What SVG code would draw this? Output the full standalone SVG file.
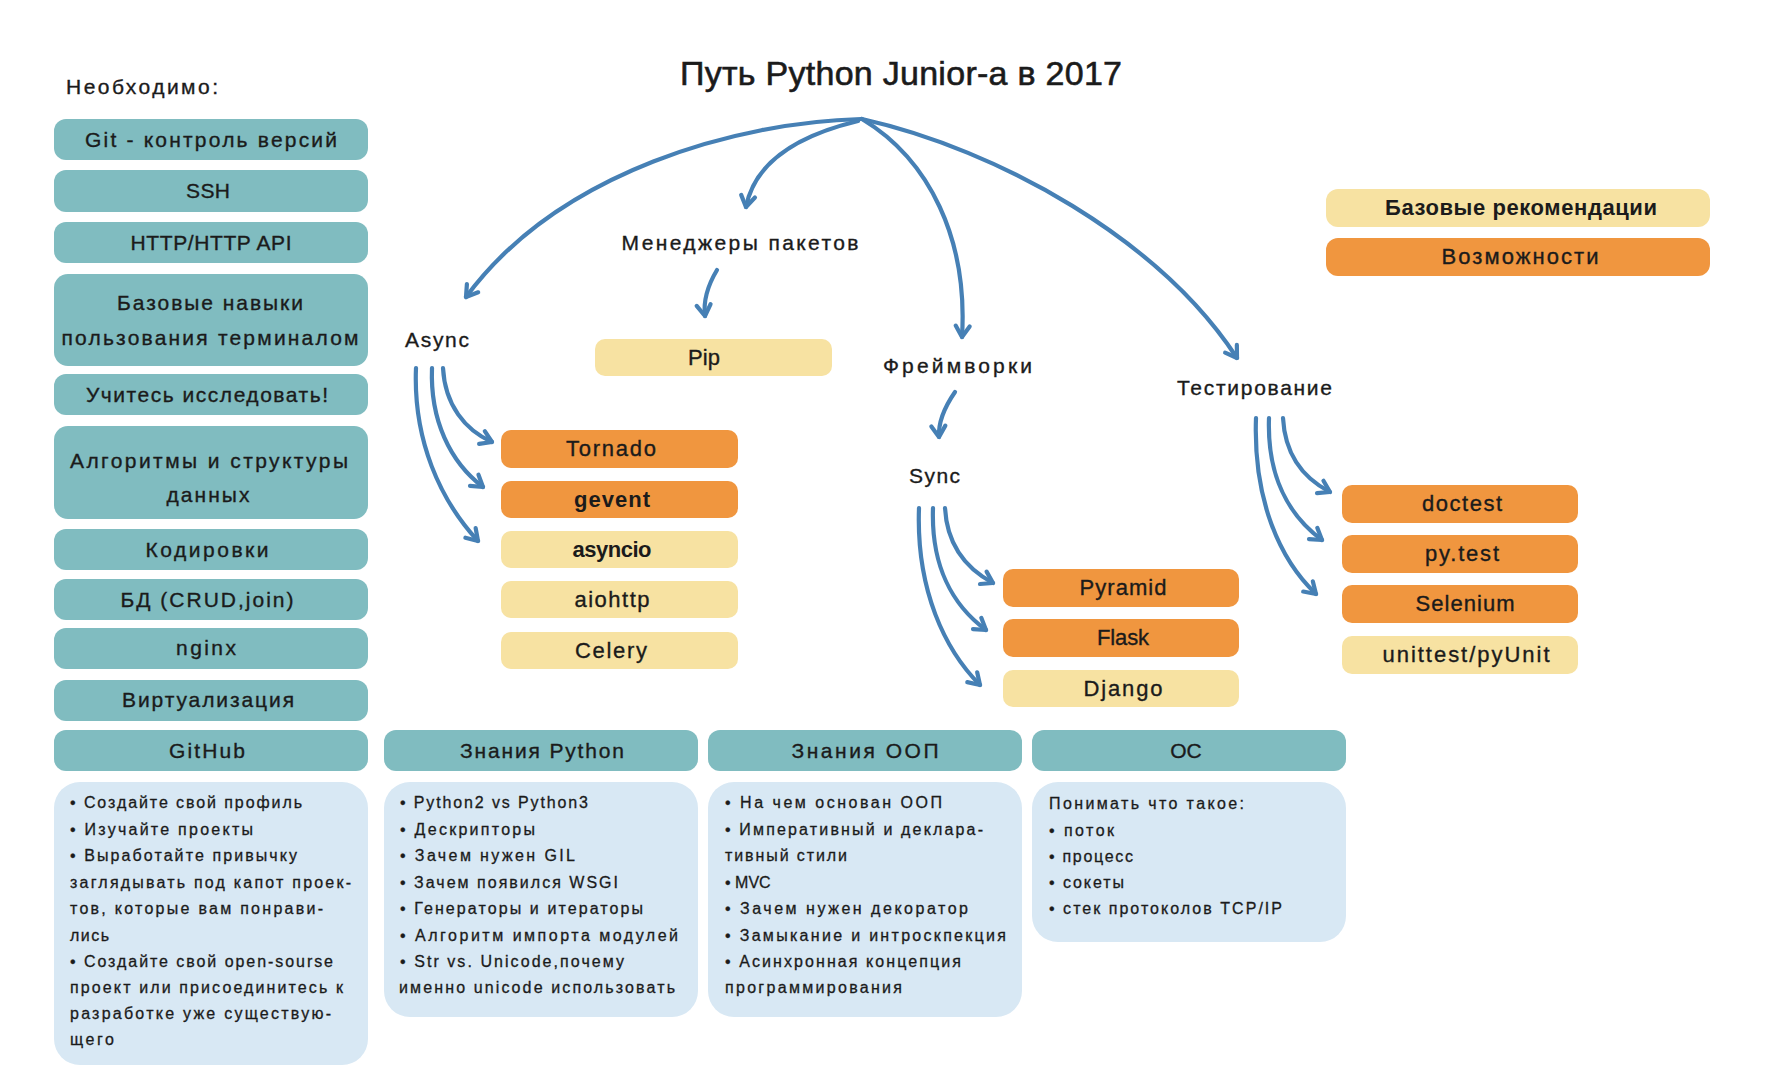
<svg xmlns="http://www.w3.org/2000/svg" width="1782" height="1092" viewBox="0 0 1782 1092">
<defs>
<style>
text{font-family:"Liberation Sans",Arial,sans-serif;fill:#1b1b1b;stroke:#1b1b1b;stroke-width:0.35px}
.teal{fill:#80bcc0}
.org{fill:#f0963f}
.yel{fill:#f7e2a2}
.lb{fill:#d8e8f4}
.lbl{font-size:21px}
.nd{font-size:22px;text-anchor:middle}
.b{font-weight:bold;stroke-width:0}
.c{text-anchor:middle}
.body{font-size:16px;stroke-width:0.3px}
.title{font-size:34px;stroke-width:0.6px}
.con{fill:none;stroke:#4680b5;stroke-width:4.2;stroke-linecap:round;marker-end:url(#arr)}
</style>
<marker id="arr" viewBox="0 0 20 20" refX="15" refY="10" markerWidth="20" markerHeight="20" markerUnits="userSpaceOnUse" orient="auto">
<path d="M4,3 L15,10 L4,17" fill="none" stroke="#4680b5" stroke-width="4.2" stroke-linecap="round" stroke-linejoin="round"/>
</marker>
</defs>
<rect width="1782" height="1092" fill="#ffffff"/>

<g id="title"><text class="title" x="680" y="85" textLength="442" lengthAdjust="spacing">Путь Python Junior-а в 2017</text></g>
<g id="need-label"><text class="lbl" x="66" y="94" font-size="20" textLength="152" lengthAdjust="spacing">Необходимо:</text></g>

<g id="n-git"><rect class="teal" x="54" y="119" width="314" height="41" rx="12"/><text class="lbl c" x="211" y="147" textLength="252" lengthAdjust="spacing">Git - контроль версий</text></g>
<g id="n-ssh"><rect class="teal" x="54" y="170" width="314" height="42" rx="12"/><text class="lbl c" x="208" y="198" textLength="44" lengthAdjust="spacing">SSH</text></g>
<g id="n-http"><rect class="teal" x="54" y="222" width="314" height="41" rx="12"/><text class="lbl c" x="211" y="250" textLength="161" lengthAdjust="spacing">HTTP/HTTP API</text></g>
<g id="n-terminal"><rect class="teal" x="54" y="274" width="314" height="92" rx="14"/><text class="lbl c" x="210" y="310" textLength="186" lengthAdjust="spacing">Базовые навыки</text><text class="lbl c" x="210" y="345" textLength="297" lengthAdjust="spacing">пользования терминалом</text></g>
<g id="n-explore"><rect class="teal" x="54" y="374" width="314" height="41" rx="12"/><text class="lbl c" x="207" y="402" textLength="242" lengthAdjust="spacing">Учитесь исследовать!</text></g>
<g id="n-algo"><rect class="teal" x="54" y="426" width="314" height="93" rx="14"/><text class="lbl c" x="209" y="468" textLength="278" lengthAdjust="spacing">Алгоритмы и структуры</text><text class="lbl c" x="208" y="502" textLength="83" lengthAdjust="spacing">данных</text></g>
<g id="n-enc"><rect class="teal" x="54" y="529" width="314" height="41" rx="12"/><text class="lbl c" x="207" y="557" textLength="123" lengthAdjust="spacing">Кодировки</text></g>
<g id="n-db"><rect class="teal" x="54" y="579" width="314" height="41" rx="12"/><text class="lbl c" x="207" y="607" textLength="173" lengthAdjust="spacing">БД (CRUD,join)</text></g>
<g id="n-nginx"><rect class="teal" x="54" y="628" width="314" height="41" rx="12"/><text class="lbl c" x="206" y="655" textLength="60" lengthAdjust="spacing">nginx</text></g>
<g id="n-virt"><rect class="teal" x="54" y="680" width="314" height="41" rx="12"/><text class="lbl c" x="208" y="707" textLength="172" lengthAdjust="spacing">Виртуализация</text></g>

<g id="h-github"><rect class="teal" x="54" y="730" width="314" height="41" rx="12"/><text class="lbl c" x="207" y="758" textLength="76" lengthAdjust="spacing">GitHub</text></g>
<g id="h-python"><rect class="teal" x="384" y="730" width="314" height="41" rx="12"/><text class="lbl c" x="542" y="758" textLength="164" lengthAdjust="spacing">Знания Python</text></g>
<g id="h-oop"><rect class="teal" x="708" y="730" width="314" height="41" rx="12"/><text class="lbl c" x="865" y="758" textLength="147" lengthAdjust="spacing">Знания ООП</text></g>
<g id="h-os"><rect class="teal" x="1032" y="730" width="314" height="41" rx="12"/><text class="lbl c" x="1186" y="758" font-size="22">ОС</text></g>

<g id="t-github"><rect class="lb" x="54" y="782" width="314" height="283" rx="26"/>
<text class="body" x="70" y="808" textLength="232" lengthAdjust="spacing">• Создайте свой профиль</text>
<text class="body" x="70" y="835" textLength="183" lengthAdjust="spacing">• Изучайте проекты</text>
<text class="body" x="70" y="861" textLength="227" lengthAdjust="spacing">• Выработайте привычку</text>
<text class="body" x="70" y="888" textLength="281" lengthAdjust="spacing">заглядывать под капот проек-</text>
<text class="body" x="70" y="914" textLength="253" lengthAdjust="spacing">тов, которые вам понрави-</text>
<text class="body" x="70" y="941" textLength="39" lengthAdjust="spacing">лись</text>
<text class="body" x="70" y="967" textLength="263" lengthAdjust="spacing">• Создайте свой open-sourse</text>
<text class="body" x="70" y="993" textLength="273" lengthAdjust="spacing">проект или присоединитесь к</text>
<text class="body" x="70" y="1019" textLength="261" lengthAdjust="spacing">разработке уже существую-</text>
<text class="body" x="70" y="1045" textLength="44" lengthAdjust="spacing">щего</text>
</g>
<g id="t-python"><rect class="lb" x="384" y="782" width="314" height="235" rx="26"/>
<text class="body" x="400" y="808" textLength="188" lengthAdjust="spacing">• Python2 vs Python3</text>
<text class="body" x="400" y="835" textLength="135" lengthAdjust="spacing">• Дескрипторы</text>
<text class="body" x="400" y="861" textLength="175" lengthAdjust="spacing">• Зачем нужен GIL</text>
<text class="body" x="400" y="888" textLength="218" lengthAdjust="spacing">• Зачем появился WSGI</text>
<text class="body" x="400" y="914" textLength="243" lengthAdjust="spacing">• Генераторы и итераторы</text>
<text class="body" x="400" y="941" textLength="278" lengthAdjust="spacing">• Алгоритм импорта модулей</text>
<text class="body" x="400" y="967" textLength="224" lengthAdjust="spacing">• Str vs. Unicode,почему</text>
<text class="body" x="399" y="993" textLength="276" lengthAdjust="spacing">именно unicode использовать</text>
</g>
<g id="t-oop"><rect class="lb" x="708" y="782" width="314" height="235" rx="26"/>
<text class="body" x="725" y="808" textLength="217" lengthAdjust="spacing">• На чем основан ООП</text>
<text class="body" x="725" y="835" textLength="258" lengthAdjust="spacing">• Императивный и деклара-</text>
<text class="body" x="725" y="861" textLength="122" lengthAdjust="spacing">тивный стили</text>
<text class="body" x="725" y="888">• MVC</text>
<text class="body" x="725" y="914" textLength="243" lengthAdjust="spacing">• Зачем нужен декоратор</text>
<text class="body" x="725" y="941" textLength="281" lengthAdjust="spacing">• Замыкание и интроскпекция</text>
<text class="body" x="725" y="967" textLength="236" lengthAdjust="spacing">• Асинхронная концепция</text>
<text class="body" x="725" y="993" textLength="177" lengthAdjust="spacing">программирования</text>
</g>
<g id="t-os"><rect class="lb" x="1032" y="782" width="314" height="160" rx="26"/>
<text class="body" x="1049" y="809" textLength="195" lengthAdjust="spacing">Понимать что такое:</text>
<text class="body" x="1049" y="836" textLength="65" lengthAdjust="spacing">• поток</text>
<text class="body" x="1049" y="862" textLength="84" lengthAdjust="spacing">• процесс</text>
<text class="body" x="1049" y="888" textLength="75" lengthAdjust="spacing">• сокеты</text>
<text class="body" x="1049" y="914" textLength="233" lengthAdjust="spacing">• стек протоколов TCP/IP</text>
</g>

<g id="l-pkg"><text class="lbl c" x="740" y="250" textLength="237" lengthAdjust="spacing">Менеджеры пакетов</text></g>
<g id="l-async"><text class="lbl" x="405" y="347" textLength="64" lengthAdjust="spacing">Async</text></g>
<g id="l-fw"><text class="lbl" x="883" y="373" textLength="149" lengthAdjust="spacing">Фреймворки</text></g>
<g id="l-sync"><text class="lbl" x="909" y="483" textLength="51" lengthAdjust="spacing">Sync</text></g>
<g id="l-test"><text class="lbl" x="1177" y="395" textLength="155" lengthAdjust="spacing">Тестирование</text></g>

<g id="n-pip"><rect class="yel" x="595" y="339" width="237" height="37" rx="10"/><text class="nd" x="704" y="365" textLength="32" lengthAdjust="spacing">Pip</text></g>
<g id="n-tornado"><rect class="org" x="501" y="430" width="237" height="38" rx="10"/><text class="nd" x="611" y="456" textLength="90" lengthAdjust="spacing">Tornado</text></g>
<g id="n-gevent"><rect class="org" x="501" y="481" width="237" height="37" rx="10"/><text class="nd b" x="612" y="507" textLength="76" lengthAdjust="spacing">gevent</text></g>
<g id="n-asyncio"><rect class="yel" x="501" y="531" width="237" height="37" rx="10"/><text class="nd b" x="612" y="557" textLength="79" lengthAdjust="spacing">asyncio</text></g>
<g id="n-aiohttp"><rect class="yel" x="501" y="581" width="237" height="37" rx="10"/><text class="nd" x="612" y="607" textLength="75" lengthAdjust="spacing">aiohttp</text></g>
<g id="n-celery"><rect class="yel" x="501" y="632" width="237" height="37" rx="10"/><text class="nd" x="611" y="658" textLength="72" lengthAdjust="spacing">Celery</text></g>

<g id="n-pyramid"><rect class="org" x="1003" y="569" width="236" height="38" rx="10"/><text class="nd" x="1123" y="595" textLength="87" lengthAdjust="spacing">Pyramid</text></g>
<g id="n-flask"><rect class="org" x="1003" y="619" width="236" height="38" rx="10"/><text class="nd" x="1123" y="645" textLength="52" lengthAdjust="spacing">Flask</text></g>
<g id="n-django"><rect class="yel" x="1003" y="670" width="236" height="37" rx="10"/><text class="nd" x="1123" y="696" textLength="79" lengthAdjust="spacing">Django</text></g>

<g id="n-doctest"><rect class="org" x="1342" y="485" width="236" height="38" rx="10"/><text class="nd" x="1462" y="511" textLength="80" lengthAdjust="spacing">doctest</text></g>
<g id="n-pytest"><rect class="org" x="1342" y="535" width="236" height="38" rx="10"/><text class="nd" x="1462" y="561" textLength="74" lengthAdjust="spacing">py.test</text></g>
<g id="n-selenium"><rect class="org" x="1342" y="585" width="236" height="38" rx="10"/><text class="nd" x="1465" y="611" textLength="99" lengthAdjust="spacing">Selenium</text></g>
<g id="n-unittest"><rect class="yel" x="1342" y="636" width="236" height="38" rx="10"/><text class="nd" x="1466" y="662" textLength="167" lengthAdjust="spacing">unittest/pyUnit</text></g>

<g id="legend-basic"><rect class="yel" x="1326" y="189" width="384" height="38" rx="12"/><text class="nd b" x="1521" y="215" textLength="272" lengthAdjust="spacing">Базовые рекомендации</text></g>
<g id="legend-opp"><rect class="org" x="1326" y="238" width="384" height="38" rx="12"/><text class="nd" x="1520" y="264" textLength="157" lengthAdjust="spacing">Возможности</text></g>

<g id="connectors">
<path class="con" d="M861 119 C740 122 560 170 466 297"/>
<path class="con" d="M858 121 C800 135 755 160 746 207"/>
<path class="con" d="M862 119 C930 160 968 240 962 337"/>
<path class="con" d="M862 119 C1000 150 1160 240 1237 358"/>
<path class="con" d="M717 270 C708 285 703 300 705 316"/>
<path class="con" d="M955 392 C946 405 938 420 939 437"/>
<path class="con" d="M443 368 C445 405 465 430 492 442"/>
<path class="con" d="M432 368 C430 420 450 462 483 487"/>
<path class="con" d="M416 368 C413 440 440 500 478 541"/>
<path class="con" d="M945 508 C947 545 965 568 993 583"/>
<path class="con" d="M933 508 C931 565 952 605 986 630"/>
<path class="con" d="M919 508 C916 590 945 650 980 685"/>
<path class="con" d="M1283 418 C1285 455 1303 478 1330 492"/>
<path class="con" d="M1269 418 C1267 475 1288 515 1322 540"/>
<path class="con" d="M1256 418 C1253 500 1280 560 1316 594"/>
</g>
</svg>
